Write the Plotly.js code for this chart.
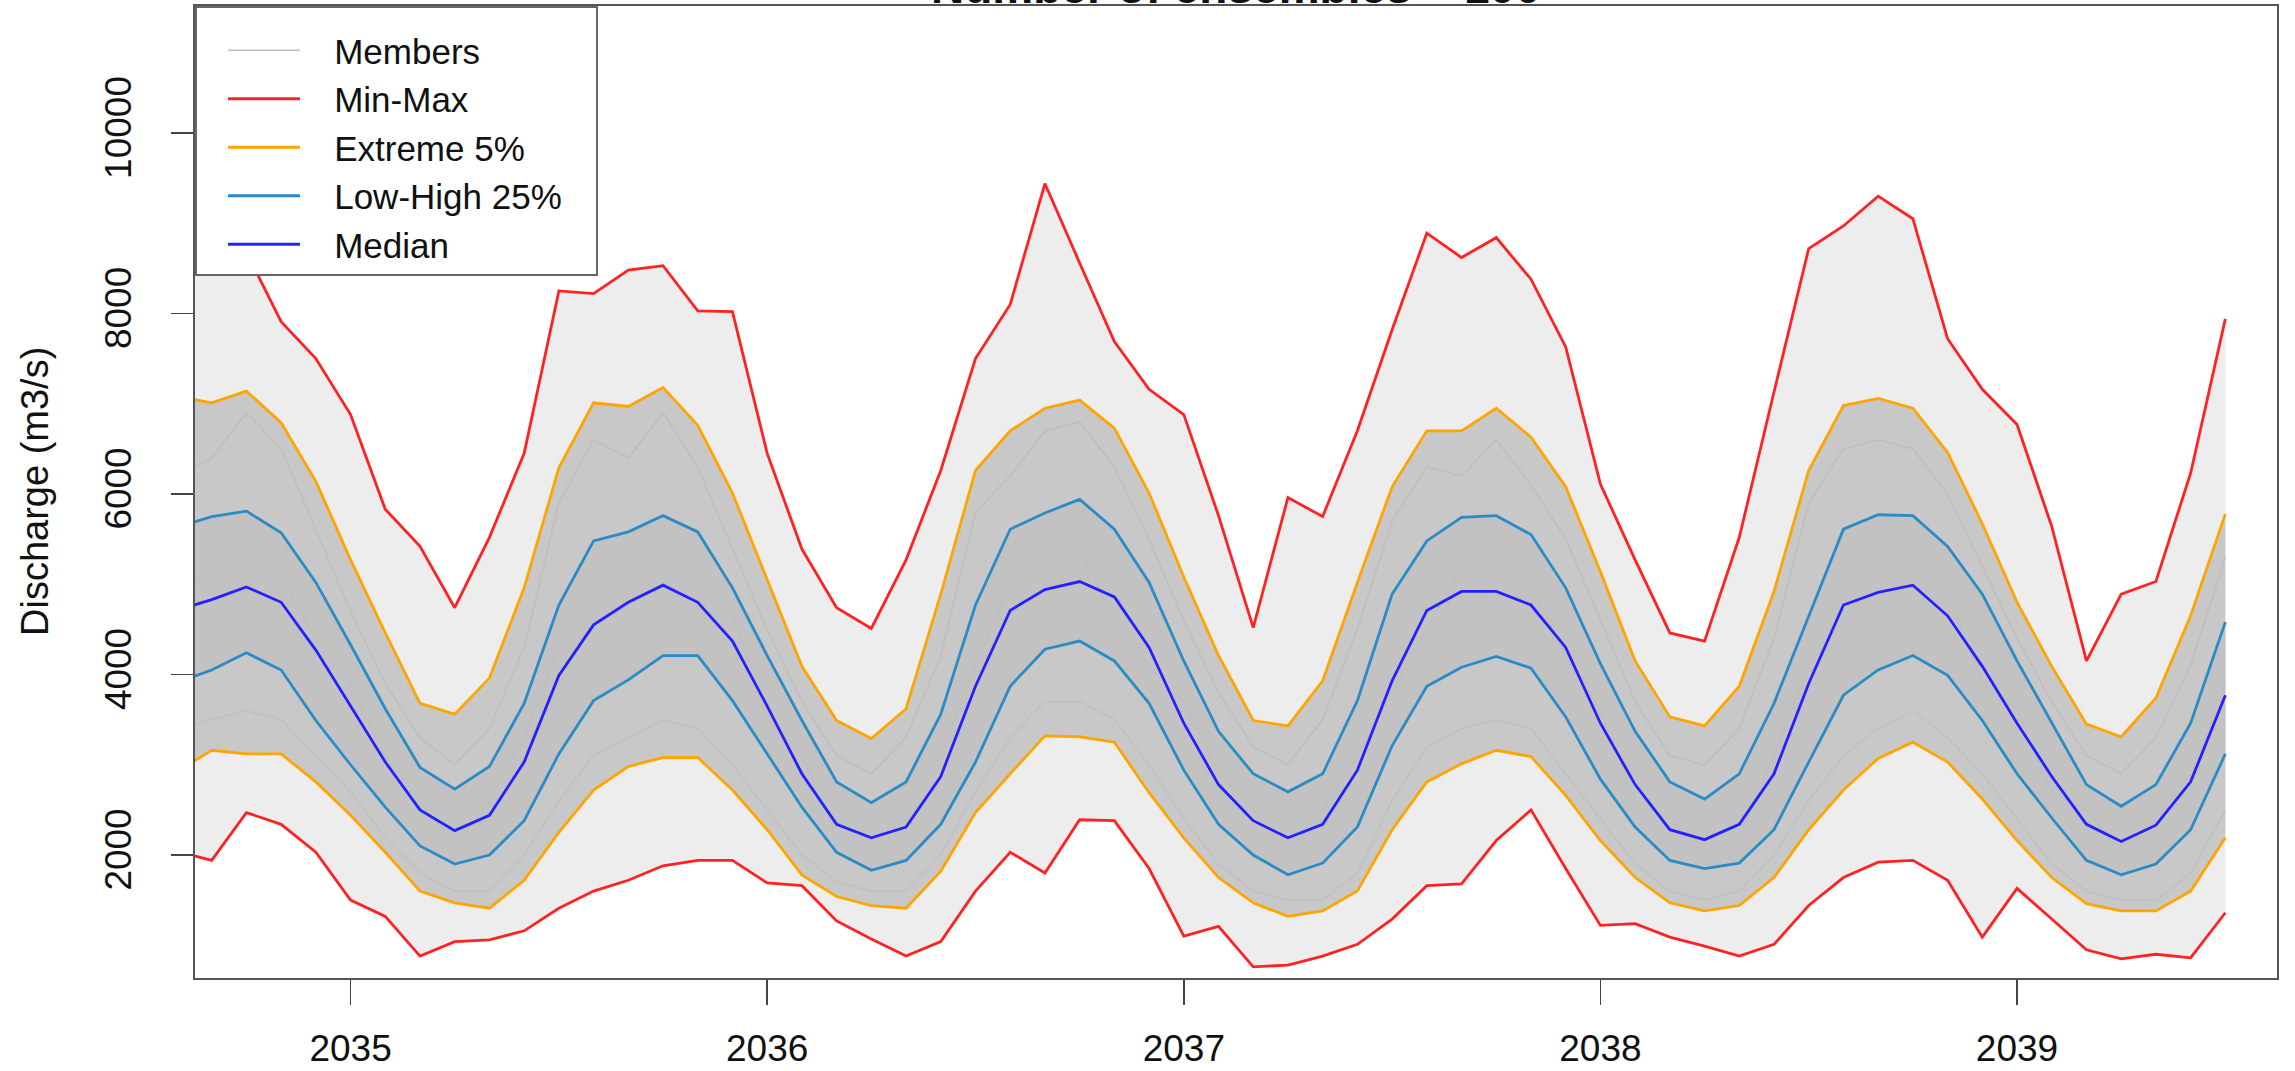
<!DOCTYPE html>
<html>
<head>
<meta charset="utf-8">
<script src="https://cdn.plot.ly/plotly-3.0.1.min.js"></script>
<style>
  html, body { margin: 0; padding: 0; background: #ffffff; }
  #chart { width: 2295px; height: 1071px; }
</style>
</head>
<body>
<div id="chart"></div>
<script>
// Monthly time steps (year-month)
const months = [
  '2034-08','2034-09','2034-10','2034-11','2034-12',
  '2035-01','2035-02','2035-03','2035-04','2035-05','2035-06','2035-07','2035-08','2035-09','2035-10','2035-11','2035-12',
  '2036-01','2036-02','2036-03','2036-04','2036-05','2036-06','2036-07','2036-08','2036-09','2036-10','2036-11','2036-12',
  '2037-01','2037-02','2037-03','2037-04','2037-05','2037-06','2037-07','2037-08','2037-09','2037-10','2037-11','2037-12',
  '2038-01','2038-02','2038-03','2038-04','2038-05','2038-06','2038-07','2038-08','2038-09','2038-10','2038-11','2038-12',
  '2039-01','2039-02','2039-03','2039-04','2039-05','2039-06','2039-07'
];

// Ensemble statistics, discharge (m3/s)
const maxQ = [8500,8600,8680,7910,7500, 6880,5830,5420,4740,5520,6450,8250,8220,8480,8530,8030,8020,
  6450,5390,4740,4510,5270,6260,7500,8100,9440,8560,7690,7160,
  6880,5760,4520,5960,5750,6700,7820,8890,8620,8840,8380,7630,
  6110,5270,4460,4370,5520,7130,8720,8970,9300,9050,7720,7160,
  6770,5640,4150,4890,5030,6230,7940];
const q95 = [7080,7010,7140,6790,6140, 5270,4460,3680,3560,3960,4960,6290,7010,6970,7180,6760,6010,
  5050,4090,3490,3290,3620,4890,6260,6700,6950,7040,6730,6010,
  5080,4210,3490,3430,3930,5020,6080,6700,6700,6950,6630,6080,
  5140,4150,3530,3430,3870,4920,6260,6980,7060,6950,6460,5670,
  4800,4090,3450,3310,3740,4650,5780];
const q75 = [5630,5750,5810,5570,5020, 4330,3620,2970,2730,2980,3680,4770,5480,5580,5760,5580,4960,
  4210,3490,2810,2580,2810,3560,4770,5610,5790,5940,5610,5020,
  4150,3370,2900,2700,2900,3710,4890,5480,5740,5760,5550,4960,
  4120,3370,2810,2620,2900,3680,4640,5610,5770,5760,5420,4890,
  4150,3460,2780,2540,2780,3460,4580];
const median = [4710,4830,4970,4800,4270, 3650,3030,2500,2270,2440,3030,3990,4550,4800,4990,4800,4370,
  3650,2900,2340,2190,2310,2870,3870,4710,4940,5030,4860,4300,
  3460,2780,2380,2190,2340,2940,3930,4710,4920,4920,4770,4300,
  3460,2780,2280,2170,2340,2900,3900,4770,4910,4990,4650,4090,
  3460,2870,2340,2150,2330,2810,3770];
const q25 = [3910,4050,4240,4050,3490, 3000,2530,2100,1900,2000,2380,3120,3710,3940,4210,4210,3710,
  3120,2530,2030,1830,1940,2340,3030,3870,4280,4370,4150,3680,
  2940,2340,2000,1780,1910,2310,3210,3870,4080,4200,4070,3530,
  2840,2310,1940,1850,1910,2280,3030,3770,4050,4210,3990,3490,
  2900,2410,1940,1780,1900,2280,3120];
const q05 = [2920,3160,3120,3120,2810, 2440,2030,1600,1470,1410,1720,2250,2720,2980,3080,3080,2720,
  2280,1780,1540,1440,1410,1820,2470,2900,3320,3310,3250,2690,
  2190,1750,1470,1320,1380,1600,2280,2810,3010,3160,3090,2660,
  2160,1750,1470,1380,1440,1750,2280,2720,3070,3250,3030,2620,
  2160,1750,1460,1380,1380,1600,2190];
const minQ = [2040,1940,2470,2340,2030, 1500,1320,880,1040,1060,1160,1410,1600,1720,1880,1940,1940,
  1690,1660,1270,1070,880,1040,1600,2030,1800,2390,2380,1850,
  1100,1210,760,780,880,1010,1290,1660,1680,2160,2500,1850,
  1220,1240,1090,990,880,1010,1440,1750,1920,1940,1720,1090,
  1630,1290,950,850,900,860,1360];

// A few individual ensemble members (approximate readings)
const member1 = [6200,6400,6900,6500,5600, 4700,3900,3300,3000,3400,4300,5900,6600,6400,6900,6300,5400,
  4500,3700,3100,2900,3300,4200,5800,6200,6700,6800,6300,5500,
  4600,3800,3200,3000,3500,4500,5700,6300,6200,6600,6100,5500,
  4600,3700,3100,3000,3400,4400,5900,6500,6600,6500,6000,5200,
  4400,3700,3100,2900,3300,4100,5300];
const member2 = [3400,3500,3600,3500,3100, 2700,2200,1800,1600,1600,2000,2600,3100,3300,3500,3400,3000,
  2500,2000,1700,1600,1600,2000,2700,3300,3700,3700,3500,3000,
  2400,1900,1600,1500,1500,1800,2600,3200,3400,3500,3400,2900,
  2400,1900,1600,1500,1600,2000,2600,3100,3400,3600,3300,2900,
  2400,1900,1600,1500,1500,1800,2500];
const member3 = [4900,5200,4700,5100,4400, 3900,3100,2600,2100,2600,3300,4300,4700,5300,4800,4600,4700,
  3500,3100,2200,2300,2600,3100,4100,5000,5100,5400,4600,4100,
  3700,2900,2500,2000,2500,3100,3800,4500,5200,4700,5000,4200,
  3600,2600,2400,2000,2200,3100,4100,4600,5100,4800,4900,3900,
  3600,2700,2500,2000,2400,2900,3900];

const yearTicks = [2035, 2036, 2037, 2038, 2039];
const yTicks = [2000, 4000, 6000, 8000, 10000];

// decimal-year positions
const x = months.map(s => { const p = s.split('-'); return +p[0] + (+p[1] - 1) / 12; });

const FONT = 'Liberation Sans, Arial, Helvetica, sans-serif';
const RED = '#FF2222', ORANGE = '#FFA500', SKY = '#2A8BC6', BLUE = '#2222FF', GREY = '#BEBEBE';
const LW = 2.8;
const PAD = '\u00a0\u00a0\u00a0';

function band(lo, hi, color) {
  return [
    {x: x, y: lo, type: 'scatter', mode: 'lines', line: {width: 0, color: color}, showlegend: false, hoverinfo: 'skip'},
    {x: x, y: hi, type: 'scatter', mode: 'lines', line: {width: 0, color: color}, fill: 'tonexty', fillcolor: color, showlegend: false, hoverinfo: 'skip'}
  ];
}

const traces = [].concat(
  band(minQ, maxQ, '#EDEDED'),
  band(q05, q95, '#C8C8C8'),
  band(q25, q75, '#C2C2C2'),
  [
    {x: x, y: member1, type: 'scatter', mode: 'lines', name: PAD + 'Members', line: {color: GREY, width: 1.6}},
    {x: x, y: member2, type: 'scatter', mode: 'lines', name: 'Members', line: {color: GREY, width: 1.2}, showlegend: false},
    {x: x, y: member3, type: 'scatter', mode: 'lines', name: 'Members', line: {color: GREY, width: 1.2}, showlegend: false},
    {x: x, y: maxQ, type: 'scatter', mode: 'lines', name: PAD + 'Min-Max', line: {color: RED, width: LW}},
    {x: x, y: minQ, type: 'scatter', mode: 'lines', name: 'Min-Max', line: {color: RED, width: LW}, showlegend: false},
    {x: x, y: q95, type: 'scatter', mode: 'lines', name: PAD + 'Extreme 5%', line: {color: ORANGE, width: LW}},
    {x: x, y: q05, type: 'scatter', mode: 'lines', name: 'Extreme 5%', line: {color: ORANGE, width: LW}, showlegend: false},
    {x: x, y: q75, type: 'scatter', mode: 'lines', name: PAD + 'Low-High 25%' + PAD, line: {color: SKY, width: LW}},
    {x: x, y: q25, type: 'scatter', mode: 'lines', name: 'Low-High 25%', line: {color: SKY, width: LW}, showlegend: false},
    {x: x, y: median, type: 'scatter', mode: 'lines', name: PAD + 'Median', line: {color: BLUE, width: LW}}
  ]
);

const layout = {
  width: 2295, height: 1071,
  margin: {l: 195, r: 18, t: 6, b: 93, pad: 0},
  paper_bgcolor: '#ffffff', plot_bgcolor: '#ffffff',
  font: {family: FONT, color: '#111111'},
  showlegend: true,
  xaxis: {
    range: [2034.6266, 2039.624], tickmode: 'array', tickvals: yearTicks,
    ticktext: yearTicks.map(String),
    ticks: 'outside', ticklen: 25, tickwidth: 1.5, tickcolor: '#444',
    showline: true, mirror: true, linecolor: '#555', linewidth: 2,
    showgrid: false, zeroline: false,
    tickfont: {family: FONT, size: 37, color: '#111'},
    ticklabelstandoff: 12
  },
  yaxis: {
    range: [637, 11407], tickmode: 'array', tickvals: yTicks,
    ticktext: yTicks.map(String), tickangle: -90,
    ticks: 'outside', ticklen: 22, tickwidth: 1.5, tickcolor: '#444',
    showline: true, mirror: true, linecolor: '#555', linewidth: 2,
    showgrid: false, zeroline: false,
    tickfont: {family: FONT, size: 37, color: '#111'},
    ticklabelstandoff: 25
  },
  legend: {
    x: 0, y: 1, xanchor: 'left', yanchor: 'top',
    bgcolor: '#ffffff', bordercolor: '#666', borderwidth: 2,
    font: {family: FONT, size: 35, color: '#111'},
    itemwidth: 72, indentation: 26, traceorder: 'normal',
    title: {text: '\u00a0', font: {family: FONT, size: 10}}
  },
  annotations: [
    {text: 'Number of ensembles = 100', xref: 'paper', yref: 'paper', x: 0.5, y: 1,
     xanchor: 'center', yanchor: 'bottom', yshift: -9, showarrow: false,
     font: {family: FONT, size: 46, color: '#111', weight: 'bold'}},
    {text: 'Discharge (m3/s)', xref: 'paper', yref: 'paper', x: 0, y: 0.5,
     xanchor: 'center', yanchor: 'middle', xshift: -160, textangle: -90, showarrow: false,
     font: {family: FONT, size: 38, color: '#111'}}
  ]
};

Plotly.newPlot('chart', traces, layout, {displayModeBar: false, staticPlot: true});
</script>
</body>
</html>
